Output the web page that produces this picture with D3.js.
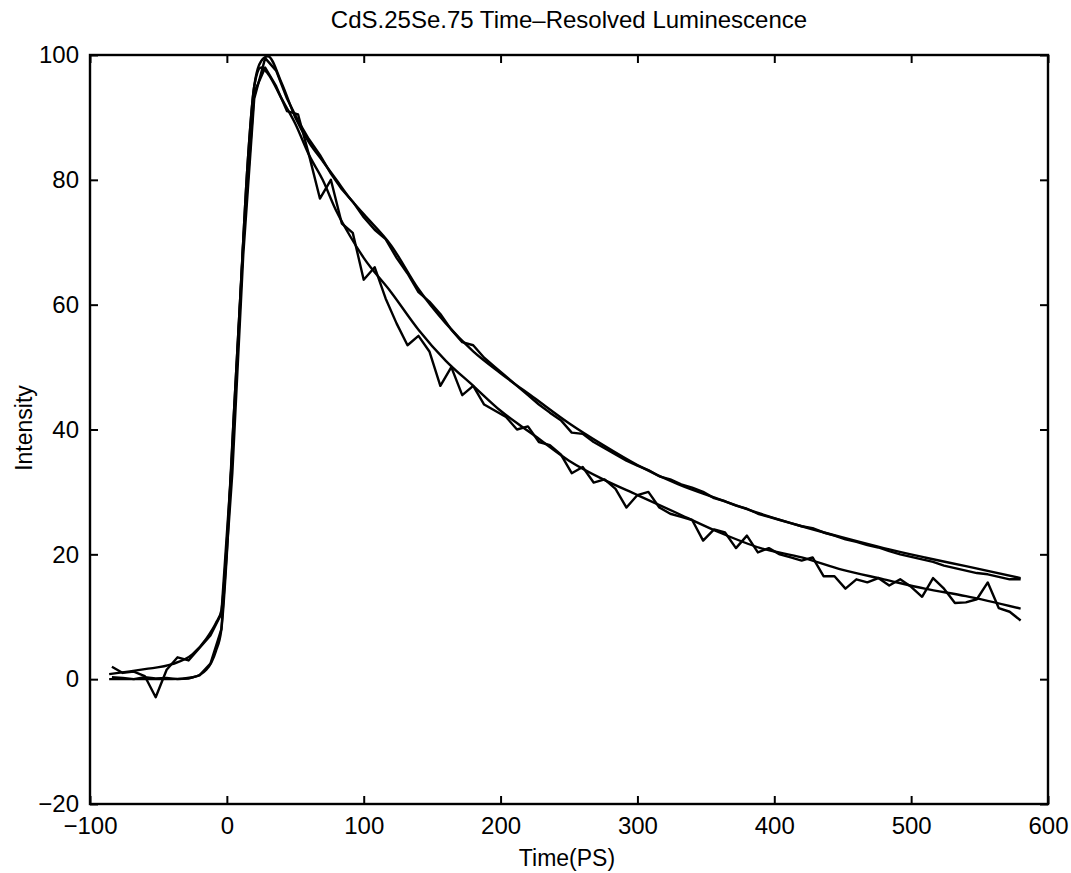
<!DOCTYPE html>
<html lang="en">
  <head>
    <meta charset="utf-8">
    <title>CdS.25Se.75 Time-Resolved Luminescence</title>
    <script src="https://d3js.org/d3.v7.min.js"></script>
    <style>
      body { margin: 0; background: #fff; }
      text { font-family: "Liberation Sans", Arial, Helvetica, sans-serif; fill: #000; }
      .curve { fill: none; stroke: #000; stroke-width: 2.4; stroke-linejoin: round; }
      .axis line { stroke: #000; stroke-width: 2; }
      .axis path { display: none; }
    </style>
  </head>
  <body>
    <svg width="1071" height="873"></svg>

    <script>
      var dataTime = [-84,-76,-68,-60,-52,-44,-36,-28,-20,-12,-4,4,12,20,28,36,44,52,60,68,
                      76,84,92,100,108,116,124,132,140,148,156,164,172,180,188,196,204,212,220,228,
                      236,244,252,260,268,276,284,292,300,308,316,324,332,340,348,356,364,372,380,388,
                      396,404,412,420,428,436,444,452,460,468,476,484,492,500,508,516,524,532,540,548,
                      556,564,572,580];

      var lowerData = [2.0,1.0,1.2,0.5,-2.9,1.5,3.5,3.0,5.0,7.0,10.5,36,70,94,98,95,91,90.5,84,77,
                       80,73,71.5,64,66,61,57,53.5,55,52.5,47,50,45.5,47,44,43,42,40,40.5,38,
                       37.5,36,33,34,31.5,32,30.5,27.5,29.5,30,27.5,26.5,26,25.5,22.2,24,23.5,21,23,20.3,
                       21,20,19.5,19,19.5,16.5,16.5,14.5,16,15.5,16.2,15,16,14.8,13.2,16.2,14.5,12.2,12.3,12.8,
                       15.5,11.4,10.8,9.4];

      var upperData = [0.3,0.2,0.0,0.3,0.1,0.2,0.0,0.1,0.6,2.5,8,33,68,93,99.5,97.5,93,89.5,86.5,84,
                       81,78.5,76.5,74,72,70.5,67.5,65,62,60.5,58.5,56,54,53.5,51.5,50,48.5,47,45.5,44,
                       42.7,41.5,39.5,39.3,38,37,36,35,34.2,33.5,32.5,32,31.2,30.7,30,29,28.5,27.8,27.3,26.5,
                       26,25.5,25,24.5,24.2,23.5,23,22.4,22,21.5,21.1,20.5,20,19.6,19.2,18.8,18.2,17.8,17.4,17,
                       16.8,16.4,16,16];

      // fitted curves
      var lowerFitTime = [-86,-60,-40,-25,-15,-8,-4,0,5,10,15,20,25,30,40,50,60,70,80,90,
                          100,120,140,160,180,200,225,250,275,300,330,360,390,420,450,480,510,540,580];
      var lowerFit = [0.8,1.6,2.4,4,6.5,9,11,22,42,62,82,95,98,97,93,89,84,80,75,71,
                      67.5,62,56,51,47,43,39,35,32,29.5,26.5,23.5,21,19.5,17.5,16,14.5,13.3,11.3];

      var upperFitTime = [-86,-40,-25,-15,-8,-4,0,5,10,15,20,25,30,40,50,60,70,80,90,100,
                          120,140,160,180,200,225,250,275,300,330,360,390,420,450,480,510,540,580];
      var upperFit = [0,0,0.3,1.5,4.5,8,20,42,62,82,95,99,99.8,95.5,90,86,83,80,77,74.5,
                      69.5,62.5,57,52.5,49,45,41,37.5,34.3,31.2,28.8,26.5,24.5,22.7,21,19.5,18.1,16.2];

      var xTicks = [-100,0,100,200,300,400,500,600];
      var yTicks = [-20,0,20,40,60,80,100];

      var svg = d3.select("svg");
      var mLeft = 90, mRight = 1048, mTop = 55, mBottom = 804;

      var x = d3.scaleLinear().domain([-100, 600]).range([mLeft, mRight]);
      var y = d3.scaleLinear().domain([-20, 100]).range([mBottom, mTop]);

      function series(times, vals) {
        return times.map(function(t, i){ return [t, vals[i]]; });
      }

      var line = d3.line()
                   .x(function(d){ return x(d[0]); })
                   .y(function(d){ return y(d[1]); });
      var smooth = d3.line()
                     .x(function(d){ return x(d[0]); })
                     .y(function(d){ return y(d[1]); })
                     .curve(d3.curveMonotoneX);

      var plot = svg.append("g");
      plot.append("path").attr("class", "curve").attr("d", smooth(series(upperFitTime, upperFit)));
      plot.append("path").attr("class", "curve").attr("d", line(series(dataTime, upperData)));
      plot.append("path").attr("class", "curve").attr("d", smooth(series(lowerFitTime, lowerFit)));
      plot.append("path").attr("class", "curve").attr("d", line(series(dataTime, lowerData)));

      // axes, ticks pointing inward on all four sides
      svg.append("g").attr("class", "axis").attr("transform", "translate(0," + mBottom + ")")
         .call(d3.axisBottom(x).tickValues(xTicks).tickSize(-8).tickPadding(13));
      svg.append("g").attr("class", "axis").attr("transform", "translate(0," + mTop + ")")
         .call(d3.axisTop(x).tickValues(xTicks).tickSize(-8).tickFormat(""));
      svg.append("g").attr("class", "axis").attr("transform", "translate(" + mLeft + ",0)")
         .call(d3.axisLeft(y).tickValues(yTicks).tickSize(-8).tickPadding(11));
      svg.append("g").attr("class", "axis").attr("transform", "translate(" + mRight + ",0)")
         .call(d3.axisRight(y).tickValues(yTicks).tickSize(-8).tickFormat(""));

      svg.selectAll(".axis text").style("font-size", "24px")
         .style("font-family", "'Liberation Sans', Arial, Helvetica, sans-serif");

      svg.append("rect")
         .attr("x", mLeft).attr("y", mTop)
         .attr("width", mRight - mLeft).attr("height", mBottom - mTop)
         .attr("fill", "none").attr("stroke", "#000").attr("stroke-width", 2.4);

      svg.append("text").attr("x", 569).attr("y", 28).attr("text-anchor", "middle")
         .style("font-size", "24px").text("CdS.25Se.75 Time\u2013Resolved Luminescence");
      svg.append("text").attr("x", 567).attr("y", 866).attr("text-anchor", "middle")
         .style("font-size", "23px").text("Time(PS)");
      svg.append("text").attr("transform", "translate(32,428) rotate(-90)")
         .attr("text-anchor", "middle").style("font-size", "23px").text("Intensity");
    </script>
  </body>
</html>
